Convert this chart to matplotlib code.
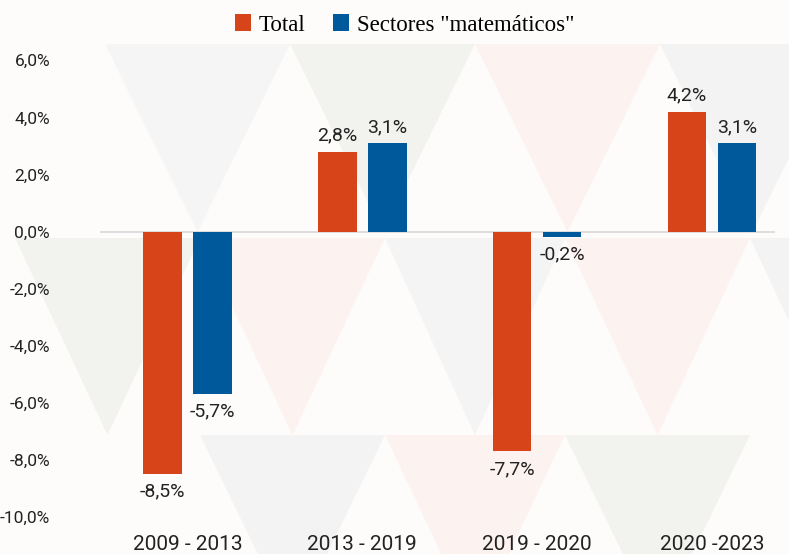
import matplotlib
matplotlib.use("Agg")
from matplotlib import pyplot as plt
from matplotlib.patches import Polygon
import numpy as np

# Data
periods = ["2009 - 2013", "2013 - 2019", "2019 - 2020", "2020 -2023"]
total = [-8.5, 2.8, -7.7, 4.2]
matematicos = [-5.7, 3.1, -0.2, 3.1]
yticks = [-10, -8, -6, -4, -2, 0, 2, 4, 6]

red = "#D8441A"
blue = "#00599A"
bg = "#FDFCFB"
txt = "#222222"

plt.rcParams['font.family'] = ['Roboto', 'DejaVu Sans']

W, H = 789, 554
fig = plt.figure(figsize=(W / 100, H / 100), dpi=100, facecolor=bg)

# background layer for the faint decorative triangles (pixel coords, top-left origin)
bgax = fig.add_axes([0, 0, 1, 1], zorder=0)
bgax.set_xlim(0, W)
bgax.set_ylim(H, 0)
bgax.axis("off")

def tri(x0, x1, ytop, ybot, color):
    bgax.add_patch(Polygon([(x0, ytop), (x1, ytop), ((x0 + x1) / 2, ybot)],
                           closed=True, facecolor=color, edgecolor="none"))

gray_t = "#F3F3F3"
green_t = "#F2F3EF"
pink_t = "#FCF2EF"
tri(105, 290, 44, 232, "#F5F5F5")
tri(290, 475, 44, 232, green_t)
tri(475, 660, 44, 232, pink_t)
tri(660, 845, 44, 232, gray_t)
tri(15, 200, 238, 435, green_t)
tri(200, 385, 238, 435, pink_t)
tri(385, 565, 238, 435, "#F4F4F4")
tri(565, 750, 238, 435, pink_t)
tri(750, 935, 238, 435, gray_t)
tri(200, 385, 435, 625, gray_t)
tri(385, 565, 435, 625, pink_t)
tri(565, 750, 435, 625, green_t)

ax = fig.add_axes([100 / W, 1 - 517 / H, 675 / W, (517 - 46) / H], zorder=1)
ax.patch.set_alpha(0)

x = np.arange(len(periods))
w = 0.22
off = 0.143
b1 = ax.bar(x - off, total, w, color=red, label="Total", zorder=3)
b2 = ax.bar(x + off, matematicos, w, color=blue, label='Sectores "matemáticos"', zorder=3)

ax.axhline(0, color="#D9D9D9", lw=1.2, zorder=2)

def fmt(v):
    return f"{v:.1f}".replace(".", ",") + "%"

for bars, vals in [(b1, total), (b2, matematicos)]:
    for b, v in zip(bars, vals):
        cx = b.get_x() + b.get_width() / 2
        if v >= 0:
            ax.text(cx, v + 0.25, fmt(v), ha="center", va="bottom", fontsize=14, color=txt)
        else:
            ax.text(cx, v - 0.3, fmt(v), ha="center", va="top", fontsize=14, color=txt)

ax.set_xlim(-0.5, 3.36)
ax.set_ylim(-10, 6.5)
ax.set_yticks(yticks)
ax.set_yticklabels([fmt(t) for t in yticks], fontsize=12.5, color=txt)
ax.set_xticks(x)
ax.set_xticklabels(periods, fontsize=15, color=txt)
ax.tick_params(axis="both", length=0)
ax.tick_params(axis="y", pad=36)
ax.tick_params(axis="x", pad=13)
for s in ax.spines.values():
    s.set_visible(False)

leg = fig.legend(handles=[b1, b2], loc="center", bbox_to_anchor=(0.5 + 10 / W, 1 - 25 / H),
                 ncol=2, frameon=False, handlelength=0.7, handleheight=0.7,
                 handletextpad=0.35, columnspacing=1.2,
                 prop={"family": ["Liberation Serif", "DejaVu Serif"], "size": 16.5})

fig.savefig("out.png", dpi=100, facecolor=bg)
